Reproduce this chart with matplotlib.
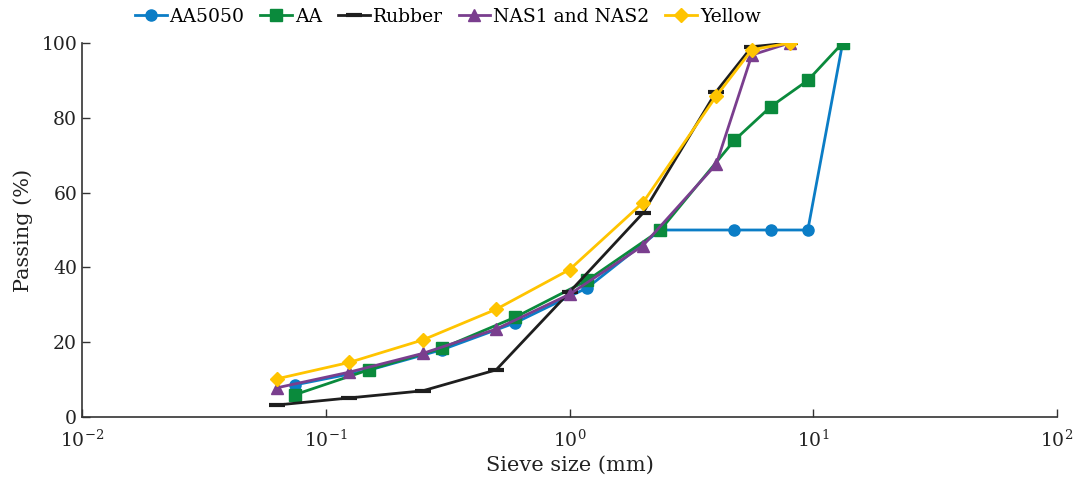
import matplotlib
matplotlib.use("Agg")
import matplotlib.pyplot as plt

# sieve sizes (mm) and passing (%)
aa_sizes = [0.075, 0.15, 0.3, 0.6, 1.18, 2.36, 4.75, 6.7, 9.5, 13.2]
aa5050_pass = [8.6, 12.5, 18.0, 25.2, 34.5, 50, 50, 50, 50, 100]
aa_pass = [6.0, 12.6, 18.4, 26.7, 36.5, 50, 74, 83, 90, 100]

eu_sizes = [0.063, 0.125, 0.25, 0.5, 1.0, 2.0, 4.0, 5.6, 8.0]
rubber_pass = [3.2, 5.1, 7.0, 12.6, 33.4, 54.5, 87, 99, 100]
nas_pass = [7.8, 12.0, 17.0, 23.5, 32.8, 45.8, 67.6, 96.8, 100]
yellow_pass = [10.2, 14.6, 20.6, 28.8, 39.4, 57.3, 85.8, 98.2, 100]

plt.rcParams["font.family"] = ["DejaVu Serif"]

fig = plt.figure(figsize=(10.75, 4.79), dpi=100)
fig.patch.set_facecolor("#FFFFFF")
ax = fig.add_axes([82 / 1075, 1 - 417 / 479, 975 / 1075, 374 / 479])

ax.plot(aa_sizes, aa5050_pass, "-o", color="#0B7DC6", lw=2, ms=8, label="AA5050")
ax.plot(aa_sizes, aa_pass, "-s", color="#0A8A3C", lw=2, ms=8, label="AA")
ax.plot(eu_sizes, rubber_pass, "-_", color="#1E1E1E", lw=2, ms=11, mew=3, label="Rubber")
ax.plot(eu_sizes, nas_pass, "-^", color="#7A3E8E", lw=2, ms=8, label="NAS1 and NAS2")
ax.plot(eu_sizes, yellow_pass, "-D", color="#FFC400", lw=2, ms=7, label="Yellow")

ax.set_xscale("log")
ax.set_xlim(0.01, 100)
ax.set_ylim(0, 100)
ax.set_yticks([0, 20, 40, 60, 80, 100])
ax.minorticks_off()

ax.spines["top"].set_visible(False)
ax.spines["right"].set_visible(False)
for s in ["left", "bottom"]:
    ax.spines[s].set_color("#333333")
    ax.spines[s].set_linewidth(1.2)

ax.tick_params(axis="both", direction="in", length=6, width=1, colors="#333333",
               labelsize=13.5, labelcolor="#222222")
ax.tick_params(axis="x", pad=9)

ax.set_xlabel("Sieve size (mm)", fontsize=15, color="#222222", labelpad=4)
ax.set_ylabel("Passing (%)", fontsize=15, color="#222222", labelpad=6)

ax.legend(loc="center left", bbox_to_anchor=(0.054, 1.07), ncol=5, frameon=False,
          fontsize=13.5, handlelength=1.7, handletextpad=0.15, columnspacing=0.85,
          borderaxespad=0, borderpad=0)

fig.savefig("out.png", dpi=100)
